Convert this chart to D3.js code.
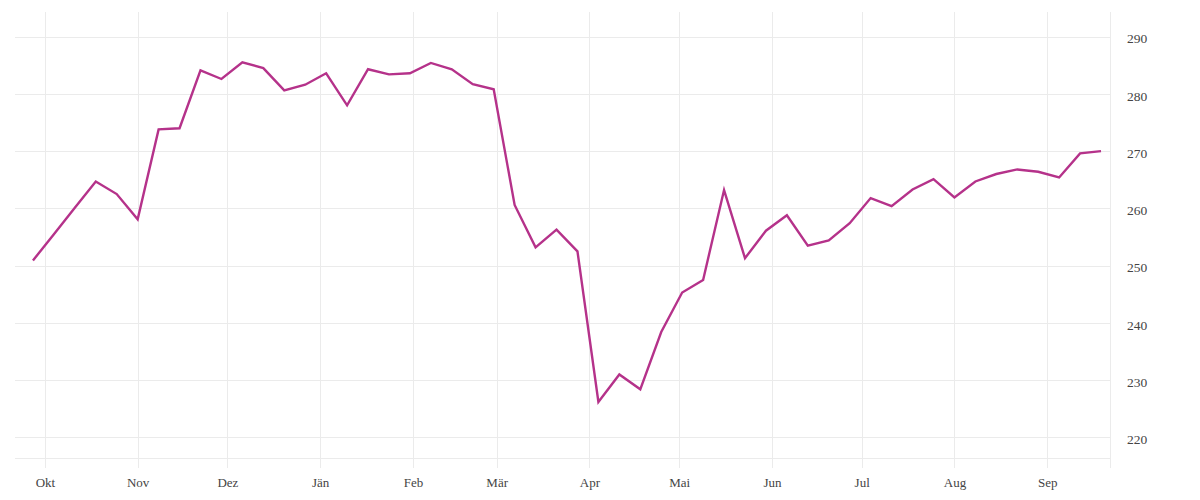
<!DOCTYPE html>
<html lang="de">
<head>
  <meta charset="UTF-8">
  <title>Kursverlauf</title>
  <style>
    body { margin: 0; background: #fff; }
    text { font-family: "Liberation Serif", "DejaVu Serif", serif; fill: #444; }
  </style>
</head>
<body>
<svg width="1200" height="500"></svg>

<script src="https://cdn.jsdelivr.net/npm/d3@7"></script>
<script>
// Wochenwerte
var dates = [
  "2022-09-27","2022-10-04","2022-10-11","2022-10-18","2022-10-25",
  "2022-11-01","2022-11-08","2022-11-15","2022-11-22","2022-11-29",
  "2022-12-06","2022-12-13","2022-12-20","2022-12-27",
  "2023-01-03","2023-01-10","2023-01-17","2023-01-24","2023-01-31",
  "2023-02-07","2023-02-14","2023-02-21","2023-02-28",
  "2023-03-07","2023-03-14","2023-03-21","2023-03-28",
  "2023-04-04","2023-04-11","2023-04-18","2023-04-25",
  "2023-05-02","2023-05-09","2023-05-16","2023-05-23","2023-05-30",
  "2023-06-06","2023-06-13","2023-06-20","2023-06-27",
  "2023-07-04","2023-07-11","2023-07-18","2023-07-25",
  "2023-08-01","2023-08-08","2023-08-15","2023-08-22","2023-08-29",
  "2023-09-05","2023-09-12","2023-09-19"
];
var values = [
  250.9, 255.5, 260.1, 264.7, 262.5,
  258.1, 273.8, 274.0, 284.1, 282.6,
  285.5, 284.5, 280.6, 281.6,
  283.6, 278.0, 284.3, 283.4, 283.6,
  285.4, 284.3, 281.7, 280.8,
  260.6, 253.2, 256.3, 252.5,
  226.2, 231.0, 228.4, 238.4,
  245.3, 247.5, 263.2, 251.3, 256.1,
  258.8, 253.5, 254.4, 257.4,
  261.8, 260.4, 263.3, 265.1,
  261.9, 264.7, 266.0, 266.8, 266.4,
  265.4, 269.6, 270.0
];
var monthLabels = ["Okt","Nov","Dez","Jän","Feb","Mär","Apr","Mai","Jun","Jul","Aug","Sep"];
var yTicks = [220, 230, 240, 250, 260, 270, 280, 290];

var parse = d3.timeParse("%Y-%m-%d");
var data = dates.map(function(d, i) { return { date: parse(d), value: values[i] }; });

var svg = d3.select("svg");
var marge = { left: 15, right: 1110, top: 12, bottom: 458 };

var x = d3.scaleTime()
  .domain([parse("2022-09-21"), parse("2023-09-22")])
  .range([marge.left, marge.right]);
var y = d3.scaleLinear()
  .domain([216.4, 294.3])
  .range([marge.bottom, marge.top]);

var grid = svg.append("g").attr("stroke", "#ebebeb").attr("stroke-width", 1);

// horizontale Gitterlinien
grid.selectAll("line.h")
  .data(yTicks.concat([y.domain()[0]]))
  .enter().append("line")
  .attr("class", "h")
  .attr("x1", marge.left).attr("x2", marge.right)
  .attr("y1", function(d) { return Math.round(y(d)) + 0.5; })
  .attr("y2", function(d) { return Math.round(y(d)) + 0.5; });

// vertikale Gitterlinien an Monatsanfängen
var months = d3.timeMonth.range(parse("2022-10-01"), parse("2023-09-02"));
grid.selectAll("line.v")
  .data(months)
  .enter().append("line")
  .attr("class", "v")
  .attr("x1", function(d) { return Math.round(x(d)) + 0.5; })
  .attr("x2", function(d) { return Math.round(x(d)) + 0.5; })
  .attr("y1", marge.top).attr("y2", marge.bottom + 10);

grid.append("line")
  .attr("x1", marge.right + 0.5).attr("x2", marge.right + 0.5)
  .attr("y1", marge.top).attr("y2", marge.bottom + 10);

// x-Achse
var xAxis = d3.axisBottom(x)
  .tickValues(months)
  .tickSize(0)
  .tickPadding(0)
  .tickFormat(function(d, i) { return monthLabels[i]; });
var gx = svg.append("g")
  .attr("transform", "translate(0," + 478 + ")")
  .call(xAxis);
gx.select(".domain").remove();
gx.selectAll("text").attr("font-size", 13).attr("fill", "#444")
  .attr("font-family", "Liberation Serif, DejaVu Serif, serif");

// y-Achse rechts
var yAxis = d3.axisRight(y)
  .tickValues(yTicks)
  .tickSize(0)
  .tickPadding(17);
var gy = svg.append("g")
  .attr("transform", "translate(" + marge.right + ",2)")
  .call(yAxis);
gy.select(".domain").remove();
gy.selectAll("text").attr("font-size", 13.5).attr("fill", "#444")
  .attr("font-family", "Liberation Serif, DejaVu Serif, serif");

// Linie
var line = d3.line()
  .x(function(d) { return x(d.date); })
  .y(function(d) { return y(d.value); });

svg.append("path")
  .datum(data)
  .attr("fill", "none")
  .attr("stroke", "#b5328a")
  .attr("stroke-width", 2.4)
  .attr("stroke-linejoin", "miter")
  .attr("d", line);
</script>
</body>
</html>
